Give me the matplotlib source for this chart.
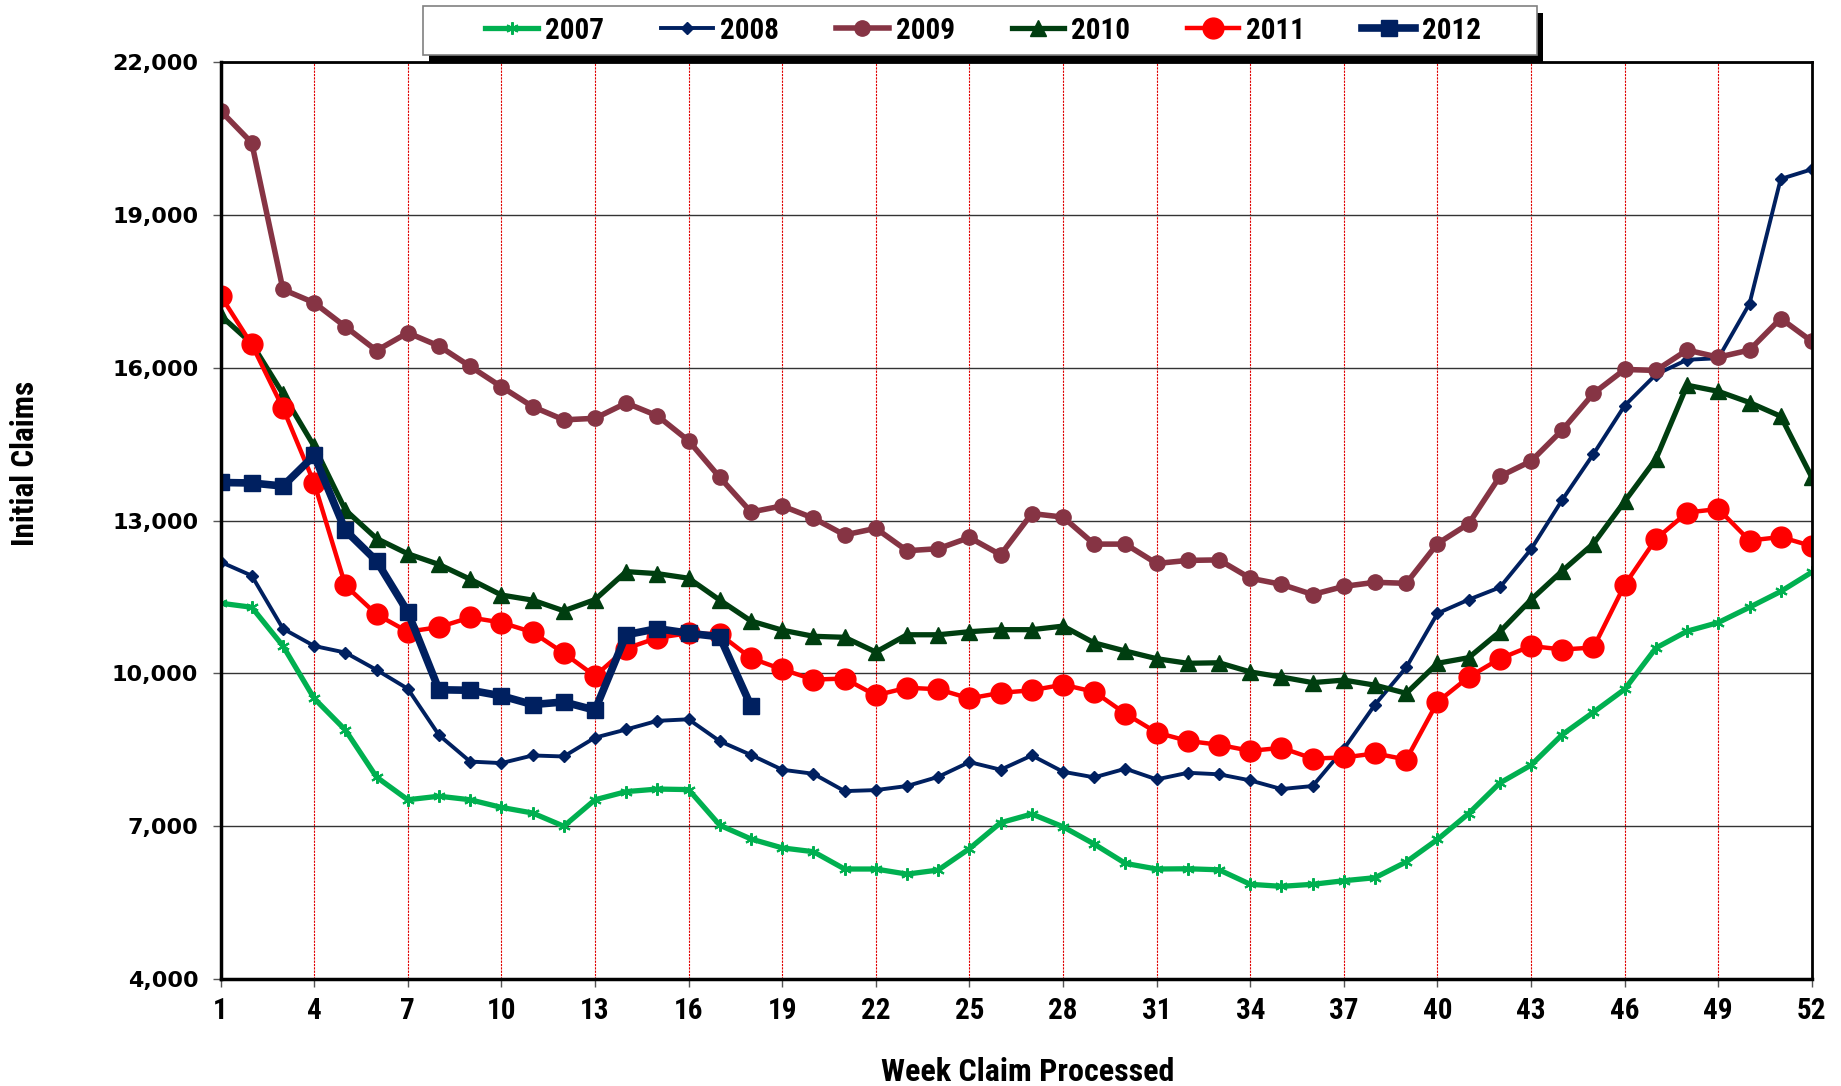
import numpy as np
import matplotlib
matplotlib.use('Agg')
import matplotlib.pyplot as plt
from matplotlib.patches import Rectangle
from matplotlib import font_manager as fm

weeks = list(range(1, 53))

claims_2007 = [11380, 11300, 10540, 9510, 8890, 7965, 7520, 7590, 7520, 7370,
               7260, 7000, 7520, 7680, 7730, 7720, 7020, 6750, 6575, 6500,
               6160, 6160, 6060, 6140, 6560, 7070, 7240, 6990, 6650, 6270,
               6160, 6165, 6145, 5860, 5820, 5860, 5930, 5990, 6300, 6740,
               7250, 7850, 8200, 8800, 9240, 9690, 10500, 10830, 11000, 11300,
               11610, 11990]
claims_2008 = [12190, 11920, 10880, 10540, 10410, 10070, 9700, 8790, 8270, 8240,
               8390, 8370, 8740, 8900, 9070, 9100, 8670, 8400, 8110, 8030,
               7690, 7710, 7790, 7970, 8260, 8110, 8390, 8070, 7960, 8130,
               7920, 8050, 8020, 7900, 7730, 7790, 8520, 9390, 10120, 11180,
               11450, 11690, 12440, 13410, 14310, 15260, 15870, 16160, 16190, 17260,
               19710, 19900]
claims_2009 = [21050, 20420, 17540, 17280, 16810, 16340, 16690, 16430, 16030, 15630,
               15240, 14980, 15010, 15310, 15060, 14570, 13850, 13170, 13290, 13050,
               12720, 12850, 12410, 12450, 12670, 12330, 13140, 13070, 12540, 12540,
               12160, 12220, 12230, 11870, 11750, 11550, 11710, 11790, 11770, 12550,
               12940, 13870, 14170, 14780, 15500, 15970, 15950, 16350, 16210, 16350,
               16970, 16520]
claims_2010 = [17030, 16480, 15490, 14460, 13210, 12650, 12350, 12140, 11850, 11540,
               11440, 11230, 11450, 12000, 11960, 11870, 11440, 11030, 10850, 10730,
               10710, 10420, 10760, 10760, 10820, 10860, 10860, 10930, 10600, 10440,
               10290, 10200, 10210, 10030, 9930, 9820, 9870, 9770, 9610, 10200,
               10310, 10820, 11450, 12015, 12550, 13380, 14210, 15660, 15540, 15320,
               15050, 13850]
claims_2011 = [17420, 16460, 15210, 13740, 11730, 11160, 10820, 10910, 11100, 11000,
               10810, 10400, 9950, 10490, 10700, 10790, 10770, 10300, 10080, 9880,
               9900, 9570, 9720, 9690, 9510, 9620, 9670, 9780, 9640, 9210,
               8840, 8675, 8600, 8480, 8540, 8330, 8350, 8430, 8310, 9440,
               9930, 10290, 10540, 10470, 10510, 11740, 12640, 13160, 13230, 12610,
               12680, 12500]
claims_2012 = [13750, 13740, 13680, 14280, 12810, 12210, 11210, 9680, 9670, 9560,
               9390, 9440, 9280, 10760, 10880, 10790, 10720, 9360]

# narrow bold font if one is around
installed = {f.name for f in fm.fontManager.ttflist}
narrow_names = [n for n in ['Liberation Sans Narrow', 'Roboto Condensed',
                            'Open Sans Condensed'] if n in installed]
if narrow_names:
    narrow = fm.FontProperties(family=narrow_names[0], weight='bold')
else:
    narrow = fm.FontProperties(family='DejaVu Sans', weight='bold', stretch='condensed')

fig = plt.figure(figsize=(18.41, 10.86), dpi=100)
ax = fig.add_axes([0.1198, 0.0985, 0.8644, 0.8441])

ax.plot(weeks, claims_2007, color='#00B050', lw=3.8, marker=(6, 2, 0), ms=9,
        mew=1.5, label='2007')
ax.plot(weeks, claims_2008, color='#002060', lw=2.8, marker='D', ms=6,
        label='2008')
ax.plot(weeks, claims_2009, color='#863444', lw=4.0, marker='o', ms=11,
        label='2009')
ax.plot(weeks, claims_2010, color='#003E10', lw=3.8, marker='^', ms=11,
        label='2010')
ax.plot(weeks, claims_2011, color='#FF0000', lw=3.2, marker='o', ms=15,
        label='2011')
ax.plot(weeks[:len(claims_2012)], claims_2012, color='#002060', lw=5.5,
        marker='s', ms=11, label='2012')

ax.set_xlim(1, 52)
ax.set_ylim(4000, 22000)
ax.set_xticks(range(1, 53, 3))
ax.set_yticks(range(4000, 22001, 3000))
ax.set_yticklabels([f'{v:,}' for v in range(4000, 22001, 3000)],
                   family='DejaVu Sans', fontweight='bold', fontsize=16)
xt = ax.set_xticklabels([str(w) for w in range(1, 53, 3)])
for t in xt:
    t.set_fontproperties(narrow)
    t.set_fontsize(21)
ax.tick_params(axis='x', length=6, width=1, color='#555555', pad=7)
ax.tick_params(axis='y', length=6, width=1, color='#555555', pad=10)

ax.set_axisbelow(True)
ax.grid(axis='y', color='#333333', lw=1.0)
ax.grid(axis='x', color='#E00000', lw=0.8, ls=(0, (2, 1)))
for s in ax.spines.values():
    s.set_linewidth(2.0)
    s.set_color('black')
ax.spines['left'].set_linewidth(2.5)
ax.spines['bottom'].set_linewidth(2.5)

fig.text(0.558, 0.0125, 'Week Claim Processed', ha='center', va='center',
         fontproperties=narrow, fontsize=23)
fig.text(0.0135, 0.573, 'Initial Claims', ha='center', va='center',
         rotation=90, fontproperties=narrow, fontsize=22.5)

# legend box with a hard black shadow, drawn by hand
fig.patches.append(Rectangle((0.2330, 0.94291), 0.6051, 0.04512,
                             transform=fig.transFigure, facecolor='black',
                             edgecolor='none', zorder=3))
fig.patches.append(Rectangle((0.2298, 0.94936), 0.6051, 0.04512,
                             transform=fig.transFigure, facecolor='white',
                             edgecolor='#808080', lw=1.2, zorder=4))

leg_font = narrow.copy()
leg_font.set_size(21)
leg = fig.legend(loc='center', bbox_to_anchor=(0.534, 0.9719), ncol=6,
                 prop=leg_font, frameon=False,
                 handlelength=1.8, handletextpad=0.24, columnspacing=1.95,
                 borderpad=0.2)
leg.set_zorder(5)

fig.savefig('out.png', dpi=100)
